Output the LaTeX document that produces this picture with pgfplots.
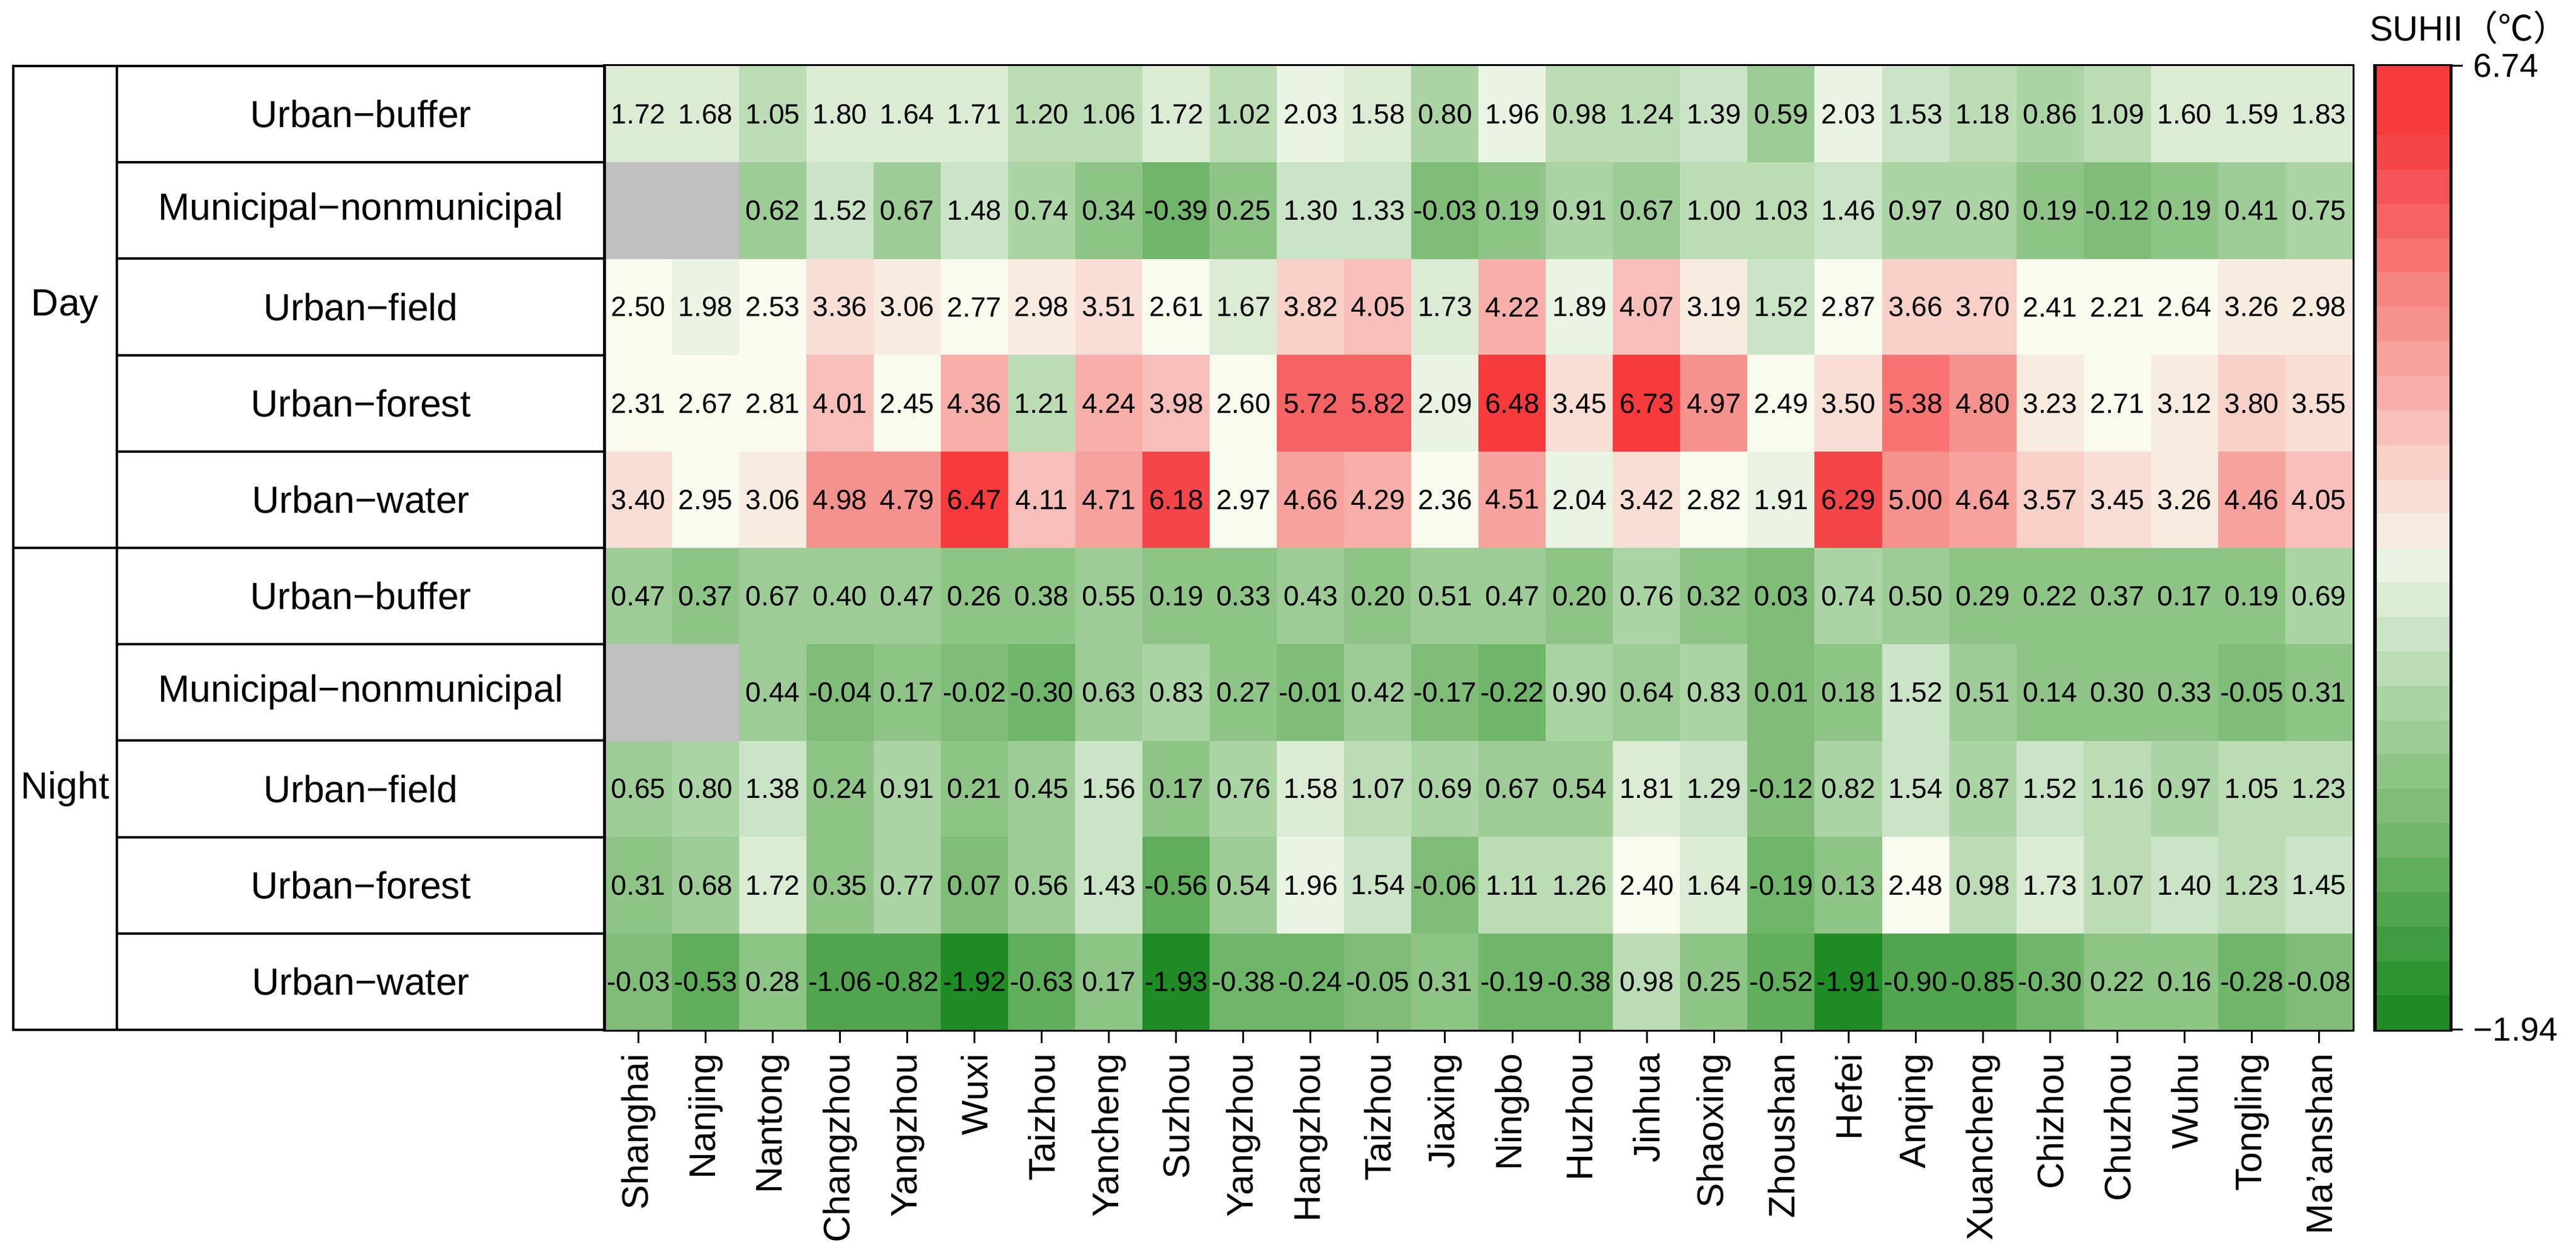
\documentclass[border=0pt]{standalone}
\usepackage{fontspec}
\setmainfont{Liberation Sans}
\newfontfamily\cjk{Noto Sans CJK SC}
\usepackage{pgfplots}
\usepackage{pgfplotstable}
\pgfplotsset{compat=1.18}

% SUHII per city (columns r0..r4 = day, r5..r9 = night), nan = no data
\pgfplotstableread{
city       r0    r1    r2    r3    r4    r5    r6    r7    r8    r9
Shanghai   1.72  nan   2.50  2.31  3.40  0.47  nan   0.65  0.31  -0.03
Nanjing    1.68  nan   1.98  2.67  2.95  0.37  nan   0.80  0.68  -0.53
Nantong    1.05  0.62  2.53  2.81  3.06  0.67  0.44  1.38  1.72  0.28
Changzhou  1.80  1.52  3.36  4.01  4.98  0.40  -0.04 0.24  0.35  -1.06
Yangzhou   1.64  0.67  3.06  2.45  4.79  0.47  0.17  0.91  0.77  -0.82
Wuxi       1.71  1.48  2.77  4.36  6.47  0.26  -0.02 0.21  0.07  -1.92
Taizhou    1.20  0.74  2.98  1.21  4.11  0.38  -0.30 0.45  0.56  -0.63
Yancheng   1.06  0.34  3.51  4.24  4.71  0.55  0.63  1.56  1.43  0.17
Suzhou     1.72  -0.39 2.61  3.98  6.18  0.19  0.83  0.17  -0.56 -1.93
Yangzhou   1.02  0.25  1.67  2.60  2.97  0.33  0.27  0.76  0.54  -0.38
Hangzhou   2.03  1.30  3.82  5.72  4.66  0.43  -0.01 1.58  1.96  -0.24
Taizhou    1.58  1.33  4.05  5.82  4.29  0.20  0.42  1.07  1.54  -0.05
Jiaxing    0.80  -0.03 1.73  2.09  2.36  0.51  -0.17 0.69  -0.06 0.31
Ningbo     1.96  0.19  4.22  6.48  4.51  0.47  -0.22 0.67  1.11  -0.19
Huzhou     0.98  0.91  1.89  3.45  2.04  0.20  0.90  0.54  1.26  -0.38
Jinhua     1.24  0.67  4.07  6.73  3.42  0.76  0.64  1.81  2.40  0.98
Shaoxing   1.39  1.00  3.19  4.97  2.82  0.32  0.83  1.29  1.64  0.25
Zhoushan   0.59  1.03  1.52  2.49  1.91  0.03  0.01  -0.12 -0.19 -0.52
Hefei      2.03  1.46  2.87  3.50  6.29  0.74  0.18  0.82  0.13  -1.91
Anqing     1.53  0.97  3.66  5.38  5.00  0.50  1.52  1.54  2.48  -0.90
Xuancheng  1.18  0.80  3.70  4.80  4.64  0.29  0.51  0.87  0.98  -0.85
Chizhou    0.86  0.19  2.41  3.23  3.57  0.22  0.14  1.52  1.73  -0.30
Chuzhou    1.09  -0.12 2.21  2.71  3.45  0.37  0.30  1.16  1.07  0.22
Wuhu       1.60  0.19  2.64  3.12  3.26  0.17  0.33  0.97  1.40  0.16
Tongling   1.59  0.41  3.26  3.80  4.46  0.19  -0.05 1.05  1.23  -0.28
Ma'anshan  1.83  0.75  2.98  3.55  4.05  0.69  0.31  1.23  1.45  -0.08
}\data

\definecolor{cgray}{RGB}{192,192,192}

% rectangular marks the size of one cell / one colour-bar level
\pgfdeclareplotmark{cellbox}{%
  \pgfpathrectangle{\pgfpoint{-11.15pt}{-15.97pt}}{\pgfpoint{22.3pt}{31.94pt}}%
  \pgfusepathqfill}
\pgfdeclareplotmark{cbbox}{%
  \pgfpathrectangle{\pgfpoint{-12pt}{-5.74pt}}{\pgfpoint{24pt}{11.48pt}}%
  \pgfusepathqfill}

\pgfplotsset{
  % the 28 levels of the colour bar, bottom to top (last one repeated)
  colormap={suhiibar}{
    rgb255=(30,139,36) rgb255=(46,148,48) rgb255=(63,156,64) rgb255=(81,165,78)
    rgb255=(96,174,91) rgb255=(112,182,106) rgb255=(128,189,121) rgb255=(142,197,135)
    rgb255=(158,204,151) rgb255=(171,212,165) rgb255=(188,220,182) rgb255=(203,228,199)
    rgb255=(219,235,212) rgb255=(233,244,226) rgb255=(248,251,238) rgb255=(248,236,225)
    rgb255=(249,222,214) rgb255=(248,208,200) rgb255=(248,191,186) rgb255=(248,175,169)
    rgb255=(247,162,157) rgb255=(246,146,142) rgb255=(246,133,129) rgb255=(247,116,115)
    rgb255=(246,99,101) rgb255=(245,83,88) rgb255=(244,69,72) rgb255=(247,58,60)
    rgb255=(247,58,60)
  },
  % same levels on the value scale (position = (value+1.94)*100pt);
  % the white level is wider, as in the cells of the original
  colormap={suhii}{
    rgb255(0pt)=(30,139,36) rgb255(29.2pt)=(46,148,48) rgb255(58.4pt)=(63,156,64)
    rgb255(87.6pt)=(81,165,78) rgb255(116.8pt)=(96,174,91) rgb255(146pt)=(112,182,106)
    rgb255(175.2pt)=(128,189,121) rgb255(204.4pt)=(142,197,135) rgb255(233.6pt)=(158,204,151)
    rgb255(262.8pt)=(171,212,165) rgb255(292pt)=(188,220,182) rgb255(321.2pt)=(203,228,199)
    rgb255(350.4pt)=(219,235,212) rgb255(379.6pt)=(233,244,226) rgb255(408.8pt)=(248,251,238)
    rgb255(491.5pt)=(248,236,225) rgb255(520.46pt)=(249,222,214) rgb255(549.42pt)=(248,208,200)
    rgb255(578.38pt)=(248,191,186) rgb255(607.34pt)=(248,175,169) rgb255(636.3pt)=(247,162,157)
    rgb255(665.26pt)=(246,146,142) rgb255(694.22pt)=(246,133,129) rgb255(723.18pt)=(247,116,115)
    rgb255(752.14pt)=(246,99,101) rgb255(781.1pt)=(245,83,88) rgb255(810.06pt)=(244,69,72)
    rgb255(839.02pt)=(247,58,60) rgb255(868pt)=(247,58,60)
  },
  heatcell/.style={
    scatter, only marks, mark=cellbox,
    point meta=explicit,
    scatter/use mapped color={draw=mapped color, fill=mapped color},
  },
  heatlabel/.style={
    only marks, mark=none,
    point meta=explicit,
    nodes near coords={\pgfmathprintnumber[fixed, fixed zerofill, precision=2, assume math mode=true]{\pgfplotspointmeta}},
    nodes near coords align={center},
    every node near coord/.append style={font=\fontsize{9.2}{10}\selectfont, inner sep=0pt, text=black},
  },
}

\begin{document}
\begin{tikzpicture}
\path[use as bounding box] (-199.8pt,-74.4pt) rectangle (651.2pt,340.2pt);

\begin{axis}[
    name=main,
    at={(0,0)}, anchor=south west,
    width=577.4pt, height=318.4pt, scale only axis,
    xmin=-0.5, xmax=25.5, ymin=-0.5, ymax=9.5,
    y dir=reverse,
    axis on top,
    colormap name=suhii,
    colormap access=piecewise constant,
    point meta min=-1.94, point meta max=6.74,
    xtick={0,...,25},
    xticklabels from table={\data}{city},
    ytick=\empty,
    xtick pos=left,
    tick align=outside,
    major tick length=4.4pt,
    every tick/.style={black, line width=0.6pt},
    x tick label style={rotate=90, anchor=east, font=\fontsize{12.2}{13}\selectfont},
    axis line style={line width=1.2pt},
]
\pgfplotsinvokeforeach{0,2,3,4,5,7,8,9}{
  \addplot[heatcell] table[x expr=\coordindex, y expr=#1, meta=r#1] {\data};
}
\pgfplotsinvokeforeach{1,6}{
  \addplot[heatcell, skip coords between index={0}{2}] table[x expr=\coordindex, y expr=#1, meta=r#1] {\data};
}
% cells without data
\addplot[only marks, mark=cellbox, mark options={fill=cgray}]
  coordinates {(0,1) (1,1) (0,6) (1,6)};
% values written in the cells
\pgfplotsinvokeforeach{0,2,3,4,5,7,8,9}{
  \addplot[heatlabel] table[x expr=\coordindex, y expr=#1, meta=r#1] {\data};
}
\pgfplotsinvokeforeach{1,6}{
  \addplot[heatlabel, skip coords between index={0}{2}] table[x expr=\coordindex, y expr=#1, meta=r#1] {\data};
}
\end{axis}

% colour bar with its 28 levels
\begin{axis}[
    name=cb,
    at={(584.8pt,0)}, anchor=south west,
    width=25pt, height=318.4pt, scale only axis,
    xmin=-0.5, xmax=0.5, ymin=-1.94, ymax=6.74,
    axis on top,
    colormap name=suhiibar,
    colormap access=piecewise constant,
    point meta min=0, point meta max=28,
    xtick=\empty,
    ytick={-1.94,6.74}, yticklabels={−1.94,6.74},
    ytick pos=right,
    tick align=outside,
    major tick length=4pt,
    every tick/.style={black, line width=0.6pt},
    y tick label style={font=\fontsize{11}{12}\selectfont},
    axis line style={line width=1.2pt},
]
\addplot[scatter, only marks, mark=cbbox, point meta=explicit,
  scatter/use mapped color={draw=mapped color, fill=mapped color}]
  coordinates {
    (0,-1.785) [0.5] (0,-1.475) [1.5] (0,-1.165) [2.5] (0,-0.855) [3.5]
    (0,-0.545) [4.5] (0,-0.235) [5.5] (0,0.075) [6.5] (0,0.385) [7.5]
    (0,0.695) [8.5] (0,1.005) [9.5] (0,1.315) [10.5] (0,1.625) [11.5]
    (0,1.935) [12.5] (0,2.245) [13.5] (0,2.555) [14.5] (0,2.865) [15.5]
    (0,3.175) [16.5] (0,3.485) [17.5] (0,3.795) [18.5] (0,4.105) [19.5]
    (0,4.415) [20.5] (0,4.725) [21.5] (0,5.035) [22.5] (0,5.345) [23.5]
    (0,5.655) [24.5] (0,5.965) [25.5] (0,6.275) [26.5] (0,6.585) [27.5]
  };
\end{axis}
\node[anchor=west, font=\fontsize{11.6}{12}\selectfont, inner sep=0pt]
  at ([xshift=-2pt, yshift=12.8pt]cb.north west) {SUHII{\cjk（℃）}};

% left-hand table of comparisons
\begin{scope}[line width=0.8pt]
  \draw (-195.4pt,0) rectangle (0,318.4pt);
  \draw (-161.2pt,0) -- (-161.2pt,318.4pt);
  \foreach \k in {1,...,9} \draw (-161.2pt,{\k*31.84pt}) -- (0,{\k*31.84pt});
  \draw (-195.4pt,159.2pt) -- (0,159.2pt);
\end{scope}
\foreach \lab [count=\i from 0] in {Urban−buffer, Municipal−nonmunicipal, Urban−field, Urban−forest, Urban−water,
    Urban−buffer, Municipal−nonmunicipal, Urban−field, Urban−forest, Urban−water}
  \node[font=\fontsize{12.5}{13}\selectfont] at (-80.6pt,{318.4pt-(\i+0.5)*31.84pt}) {\lab};
\node[font=\fontsize{12.5}{13}\selectfont] at (-178.3pt,238.8pt) {Day};
\node[font=\fontsize{12.5}{13}\selectfont] at (-178.3pt,79.6pt) {Night};
\end{tikzpicture}
\end{document}
